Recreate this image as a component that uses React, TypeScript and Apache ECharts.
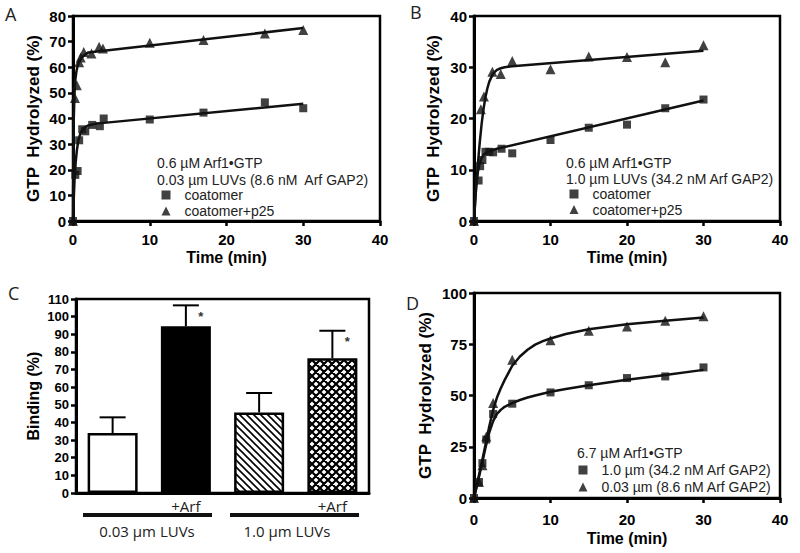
import { useEffect, useRef } from 'react';
import * as echarts from 'echarts';

// ---------- Panel A (0.03 µm LUVs) ----------
const timeA_coatomer = [0, 0.3, 0.6, 0.8, 1.2, 1.6, 2.5, 3.5, 4, 10, 17, 25, 30];
const valA_coatomer = [0, 18, 19.5, 31.5, 35.8, 35, 37.5, 37, 40, 39.6, 42.3, 46.3, 44];
const timeA_p25 = [0, 0.25, 0.5, 0.8, 1, 1.4, 2.4, 3.4, 3.9, 10, 17, 25, 30];
const valA_p25 = [0, 48, 53, 62, 63.8, 66, 65.4, 68, 67.3, 69.6, 70.6, 73.2, 74.5];
const fitTimeA_coatomer = [0, 0.1, 0.2, 0.35, 0.5, 0.7, 1, 1.4, 2, 3, 30];
const fitValA_coatomer = [0, 9, 16, 23, 27.5, 31.5, 34.5, 36.3, 37.3, 38, 45.8];
const fitTimeA_p25 = [0, 0.05, 0.1, 0.2, 0.3, 0.45, 0.6, 0.8, 1.1, 1.5, 2, 30];
const fitValA_p25 = [0, 25, 40, 50, 55, 58.5, 60.5, 62.2, 63.6, 64.8, 65.8, 75.3];

// ---------- Panel B (1.0 µm LUVs) ----------
const timeB_coatomer = [0, 0.6, 0.8, 1.1, 1.5, 2, 2.5, 3.6, 5, 10, 15, 20, 25, 30];
const valB_coatomer = [0, 7.9, 10.7, 11.9, 13.5, 13.5, 13.4, 14.1, 13.2, 15.8, 18.2, 18.8, 22, 23.7];
const timeB_p25 = [0, 0.9, 1.3, 2.4, 3.5, 5, 10, 15, 20, 25, 30];
const valB_p25 = [0, 21.8, 24.3, 29.1, 28.7, 31.2, 29.6, 32.1, 32, 31, 34.3];
const fitTimeB_coatomer = [0, 0.15, 0.3, 0.5, 0.7, 1, 1.3, 1.7, 2.2, 3, 30];
const fitValB_coatomer = [0, 4, 7, 9.5, 11, 12.3, 13, 13.4, 13.7, 14.1, 23.5];
const fitTimeB_p25 = [0, 0.25, 0.5, 0.75, 1, 1.25, 1.5, 1.75, 2, 2.5, 3, 3.5, 4, 5, 30];
const fitValB_p25 = [0, 6, 11, 15.3, 19, 21.9, 24.2, 25.9, 27.2, 28.8, 29.5, 29.8, 30, 30.2, 33.2];

// ---------- Panel C (binding) ----------
const cCategories = ['', '+Arf', '', '+Arf'];
const cMeans = [34, 94.5, 45.7, 76.4];
const cErrors = [8.9, 11.9, 11, 15.6];
const cSignificant = [false, true, false, true];
const cGroups = ['0.03 \u00b5m LUVs', '1.0 \u00b5m LUVs'];

// ---------- Panel D (6.7 µM Arf1•GTP) ----------
const timeD = [0, 0.65, 1.1, 1.6, 2.5, 5, 10, 15, 20, 25, 30];
const valD_10 = [0, 7.8, 17, 28.5, 41, 46, 51.5, 55, 58.5, 59.3, 63.7];
const valD_003 = [0, 7.8, 16, 30, 46.3, 67.5, 77, 81.6, 83.7, 86.5, 88.6];
const fitTimeD_10 = [0, 0.5, 1, 1.5, 2, 2.5, 3, 3.5, 4, 5, 6, 7, 8, 10, 12, 15, 20, 25, 30];
const fitValD_10 = [0, 8, 16, 24.5, 32, 37.5, 41, 43, 44.5, 46.3, 47.8, 49, 50, 51.8, 53.2, 55, 57.7, 60, 62.5];
const fitTimeD_003 = [0, 0.5, 1, 1.5, 2, 2.5, 3, 3.5, 4, 5, 6, 7, 8, 9, 10, 12, 15, 20, 25, 30];
const fitValD_003 = [0, 8.5, 17, 26, 35, 43, 49, 53.5, 57.5, 64.5, 69, 72.3, 74.8, 76.5, 77.8, 80, 82.3, 84.8, 86.5, 88];

const nameA1 = 'coatomer';
const nameA2 = 'coatomer+p25';
const nameD1 = '1.0 \u00b5m (34.2 nM Arf GAP2)';
const nameD2 = '0.03 \u00b5m (8.6 nM Arf GAP2)';

const ARIAL = 'Liberation Sans, Arial, sans-serif';
const MYRIAD = 'Open Sans, Noto Sans, sans-serif';
const LEGEND_FONT = 14;

const pairs = (xs: number[], ys: number[]) => xs.map((x, i) => [x, ys[i]]);

const svgUrl = (svg: string) => 'data:image/svg+xml;charset=utf-8,' + encodeURIComponent(svg);
const diagPattern = {
  image: svgUrl(
    '<svg xmlns="http://www.w3.org/2000/svg" width="7" height="7"><rect width="7" height="7" fill="#fff"/><path d="M0,0 L7,7 M-2,5 L2,9 M5,-2 L9,2" stroke="#000" stroke-width="1.6" fill="none"/></svg>'
  ),
  repeat: 'repeat',
  imageWidth: 7,
  imageHeight: 7,
};
const crossPattern = {
  image: svgUrl(
    '<svg xmlns="http://www.w3.org/2000/svg" width="8" height="8"><rect width="8" height="8" fill="#fff"/><path d="M0,0 L8,8 M8,0 L0,8 M-1,7 L1,9 M7,-1 L9,1 M1,-1 L-1,1 M9,7 L7,9" stroke="#000" stroke-width="2.2" fill="none"/></svg>'
  ),
  repeat: 'repeat',
  imageWidth: 8,
  imageHeight: 8,
};
const barFills: any[] = ['#fff', '#000', diagPattern, crossPattern];

function valueX(gridIndex: number, labelMargin: number, nameGap: number) {
  return {
    type: 'value',
    gridIndex,
    min: 0,
    max: 40,
    interval: 10,
    name: 'Time (min)',
    nameLocation: 'middle',
    nameGap,
    nameTextStyle: { fontFamily: ARIAL, fontWeight: 'bold', fontSize: 16, color: '#000' },
    axisLine: { show: true, onZero: false, lineStyle: { color: '#000', width: 3 } },
    axisTick: { show: true, length: 5, lineStyle: { color: '#000', width: 2.5 } },
    axisLabel: { margin: labelMargin, fontFamily: ARIAL, fontWeight: 'bold', fontSize: 15, color: '#000' },
    splitLine: { show: false },
  };
}

function valueY(gridIndex: number, max: number, interval: number, name: string, nameGap: number, fontSize: number) {
  return {
    type: 'value',
    gridIndex,
    min: 0,
    max,
    interval,
    name,
    nameLocation: 'middle',
    nameRotate: 90,
    nameGap,
    nameTextStyle: { fontFamily: ARIAL, fontWeight: 'bold', fontSize: name === 'Binding (%)' ? 16 : 17, color: '#000' },
    axisLine: { show: true, onZero: false, lineStyle: { color: '#000', width: 3 } },
    axisTick: { show: true, length: 5, lineStyle: { color: '#000', width: 2.5 } },
    axisLabel: { margin: 7, fontFamily: ARIAL, fontWeight: 'bold', fontSize, color: '#000' },
    splitLine: { show: false },
  };
}

function scatter(name: string, idx: number, data: number[][], symbol: string, size: number) {
  return {
    type: 'scatter',
    name,
    xAxisIndex: idx,
    yAxisIndex: idx,
    data,
    symbol,
    symbolSize: size,
    clip: false,
    itemStyle: { color: '#111' },
    z: 4,
  };
}

function fit(name: string, idx: number, data: number[][]) {
  return {
    type: 'line',
    name,
    xAxisIndex: idx,
    yAxisIndex: idx,
    data,
    showSymbol: false,
    symbol: 'none',
    smooth: false,
    lineStyle: { color: '#111', width: 2.5, join: 'round' },
    z: 3,
  };
}

function legend(left: number, top: number, data: string[], gap: number) {
  return {
    left,
    top,
    padding: 0,
    orient: 'vertical',
    itemWidth: 9,
    itemHeight: 9,
    itemGap: gap,
    selectedMode: false,
    data,
    textStyle: { fontFamily: ARIAL, fontSize: LEGEND_FONT, color: '#222', padding: [0, 0, 0, 9] },
  };
}

function text(x: number, y: number, str: string, font: string, align = 'left') {
  return {
    type: 'text',
    x,
    y,
    style: { text: str, font, fill: '#222', textAlign: align, textVerticalAlign: 'middle', verticalAlign: 'middle' },
  };
}

export default function App() {
  const ref = useRef<HTMLDivElement>(null);

  useEffect(() => {
    if (!ref.current) return;
    const chart = echarts.init(ref.current, undefined, { renderer: 'svg' });

    const gridBox = { show: true, borderColor: '#000', borderWidth: 2.5, backgroundColor: 'transparent' };
    const lf = LEGEND_FONT + 'px ' + ARIAL;

    const option: any = {
      animation: false,
      backgroundColor: '#fff',
      grid: [
        { ...gridBox, left: 73, top: 16, width: 307, height: 205 },
        { ...gridBox, left: 474, top: 16, width: 306, height: 205 },
        { ...gridBox, left: 76, top: 299, width: 293, height: 194 },
        { ...gridBox, left: 474, top: 293, width: 306, height: 205 },
      ],
      xAxis: [
        valueX(0, 11, 28),
        valueX(1, 11, 28),
        {
          type: 'category',
          gridIndex: 2,
          data: cCategories,
          axisLine: { show: true, lineStyle: { color: '#000', width: 3 } },
          axisTick: { show: false },
          axisLabel: { margin: 5, fontFamily: MYRIAD, fontSize: 15, color: '#222', interval: 0 },
          splitLine: { show: false },
        },
        valueX(3, 14, 32),
      ],
      yAxis: [
        valueY(0, 80, 10, 'GTP  Hydrolyzed (%)', 31, 15),
        valueY(1, 40, 10, 'GTP  Hydrolyzed (%)', 32, 15),
        valueY(2, 110, 10, 'Binding (%)', 35, 13),
        valueY(3, 100, 25, 'GTP  Hydrolyzed (%)', 40, 15),
      ],
      legend: [
        legend(161.5, 188, [nameA1, nameA2], 2),
        legend(569.5, 187, [nameA1, nameA2], 1.5),
        legend(578.5, 463, [nameD1, nameD2], 3),
      ],
      series: [
        fit('fitA1', 0, pairs(fitTimeA_coatomer, fitValA_coatomer)),
        fit('fitA2', 0, pairs(fitTimeA_p25, fitValA_p25)),
        scatter(nameA1, 0, pairs(timeA_coatomer, valA_coatomer), 'rect', 8),
        scatter(nameA2, 0, pairs(timeA_p25, valA_p25), 'triangle', 10),

        fit('fitB1', 1, pairs(fitTimeB_coatomer, fitValB_coatomer)),
        fit('fitB2', 1, pairs(fitTimeB_p25, fitValB_p25)),
        scatter(nameA1, 1, pairs(timeB_coatomer, valB_coatomer), 'rect', 8),
        scatter(nameA2, 1, pairs(timeB_p25, valB_p25), 'triangle', 10),

        {
          type: 'bar',
          name: 'binding',
          xAxisIndex: 2,
          yAxisIndex: 2,
          barWidth: 50,
          data: cMeans.map((v, i) => ({
            value: v,
            itemStyle: { color: barFills[i], borderColor: '#000', borderWidth: 2.5 },
          })),
          z: 2,
        },
        {
          type: 'custom',
          name: 'errors',
          xAxisIndex: 2,
          yAxisIndex: 2,
          data: cMeans.map((v, i) => [i, v, cErrors[i], cSignificant[i] ? 1 : 0]),
          renderItem: (_params: any, api: any) => {
            const idx = api.value(0);
            const mean = api.value(1);
            const err = api.value(2);
            const sig = api.value(3);
            const base = api.coord([idx, mean]);
            const top = api.coord([idx, mean + err]);
            const children: any[] = [
              { type: 'line', shape: { x1: base[0], y1: base[1], x2: top[0], y2: top[1] }, style: { stroke: '#000', lineWidth: 2 } },
              { type: 'line', shape: { x1: top[0] - 13, y1: top[1], x2: top[0] + 13, y2: top[1] }, style: { stroke: '#000', lineWidth: 2 } },
            ];
            if (sig) {
              children.push({
                type: 'text',
                x: top[0] + 15,
                y: top[1] + 11,
                style: { text: '*', font: 'bold 13px ' + ARIAL, fill: '#333', textAlign: 'center', textVerticalAlign: 'middle', verticalAlign: 'middle' },
              });
            }
            return { type: 'group', children };
          },
          z: 1,
        },

        fit('fitD1', 3, pairs(fitTimeD_10, fitValD_10)),
        fit('fitD2', 3, pairs(fitTimeD_003, fitValD_003)),
        scatter(nameD1, 3, pairs(timeD, valD_10), 'rect', 8),
        scatter(nameD2, 3, pairs(timeD, valD_003), 'triangle', 10),
      ],
      graphic: [
        text(5, 14, 'A', '18px ' + MYRIAD),
        text(410, 12, 'B', '18px ' + MYRIAD),
        text(8, 293, 'C', '18px ' + MYRIAD),
        text(406, 303, 'D', '18px ' + MYRIAD),

        text(157, 163, '0.6 \u00b5M Arf1\u2022GTP', lf),
        text(157, 179.5, '0.03 \u00b5m LUVs (8.6 nM  Arf GAP2)', lf),
        text(566, 163, '0.6 \u00b5M Arf1\u2022GTP', lf),
        text(566, 179, '1.0 \u00b5m LUVs (34.2 nM Arf GAP2)', lf),
        text(577, 453, '6.7 \u00b5M Arf1\u2022GTP', lf),

        { type: 'rect', shape: { x: 83, y: 513, width: 129, height: 4 }, style: { fill: '#111' } },
        { type: 'rect', shape: { x: 230, y: 513, width: 129, height: 4 }, style: { fill: '#111' } },
        text(147, 531, cGroups[0], '15px ' + MYRIAD, 'center'),
        text(287, 531, cGroups[1], '15px ' + MYRIAD, 'center'),
      ],
    };

    chart.setOption(option);
    return () => chart.dispose();
  }, []);

  return (
    <div
      ref={ref}
      style={{ position: 'fixed', left: 0, top: 0, width: 800, height: 553, background: '#fff' }}
    />
  );
}
